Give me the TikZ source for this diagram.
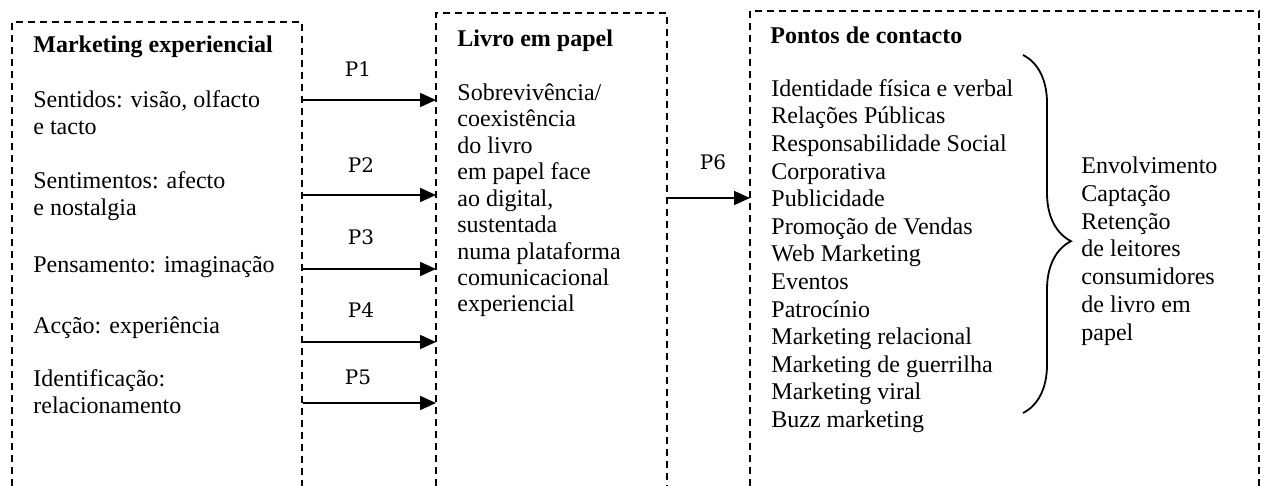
\documentclass[tikz,border=0pt]{standalone}
\usepackage{fontspec}
\setmainfont{Liberation Serif}
\newfontfamily\plabfont{DejaVu Serif}
\usetikzlibrary{arrows.meta, decorations.pathreplacing}

\tikzset{
  boxline/.style={dash pattern=on 3.5pt off 2.5pt, line width=0.9pt},
  arr/.style={-{Triangle[length=8pt,width=7pt]}, line width=0.85pt},
  txt/.style={anchor=north west, align=left, inner sep=0pt, execute at begin node=\strut, font=\fontsize{12}{13.6}\selectfont},
  ttl/.style={txt, font=\fontsize{12}{13.6}\selectfont\bfseries},
  plab/.style={inner sep=0pt, font=\plabfont\fontsize{10}{12}\selectfont}
}

\begin{document}
\begin{tikzpicture}[x=0.5pt, y=-0.5pt]
  \useasboundingbox (0,0) rectangle (1261,486);
  % the three dashed boxes, open at the bottom
  \draw[boxline] (12,486) |- (302,22) -- (302,486);
  \draw[boxline] (436,486) |- (667,13) -- (667,486);
  \draw[boxline] (750,486) |- (1259,11) -- (1259,486);

  % left box
  \node[ttl] (mkt) at (33,33) {Marketing experiencial};
  \node[txt] (sent) at (33,90) {Sentidos: visão, olfacto\\e tacto};
  \node[txt] (senti) at (33,171) {Sentimentos: afecto\\e nostalgia};
  \node[txt] (pens) at (33,253) {Pensamento: imaginação};
  \node[txt] (accao) at (33,314) {Acção: experiência};
  \node[txt] (ident) at (33,369) {Identificação:\\relacionamento};

  % middle box
  \node[ttl] (livro) at (457,27) {Livro em papel};
  \node[txt, font=\fontsize{12}{13.2}\selectfont] (sobre) at (457,83.5)
    {Sobrevivência/\\coexistência\\do livro\\em papel face\\ao digital,\\sustentada\\numa plataforma\\comunicacional\\experiencial};

  % right box
  \node[ttl] (pontos) at (770,24) {Pontos de contacto};
  \node[txt, font=\fontsize{12}{13.8}\selectfont] (lista) at (771,79)
    {Identidade física e verbal\\Relações Públicas\\Responsabilidade Social\\Corporativa\\Publicidade\\Promoção de Vendas\\Web Marketing\\Eventos\\Patrocínio\\Marketing relacional\\Marketing de guerrilha\\Marketing viral\\Buzz marketing};
  \node[txt, font=\fontsize{12}{13.9}\selectfont] (efeito) at (1081,156.5)
    {Envolvimento\\Captação\\Retenção\\de leitores\\consumidores\\de livro em\\papel};
  \draw[line width=0.9pt, decorate, decoration={brace, amplitude=24pt, aspect=0.52}]
    (1023,55) -- (1023,413);

  % arrows P1..P5
  \foreach \y/\lx/\ly/\lab [count=\k] in {100/358/69/P1, 195/361/165/P2, 269/361/237/P3, 342/361/310/P4, 403/358/377/P5} {
    \coordinate (from\k) at (303,\y);
    \coordinate (to\k) at (436,\y);
    \draw[arr] (from\k) -- (to\k);
    \node[plab] (p\k) at (\lx,\ly) {\lab};
  }
  \coordinate (from6) at (668,198);
  \coordinate (to6) at (750,198);
  \draw[arr] (from6) -- (to6);
  \node[plab] (p6) at (713,162) {P6};
\end{tikzpicture}
\end{document}
